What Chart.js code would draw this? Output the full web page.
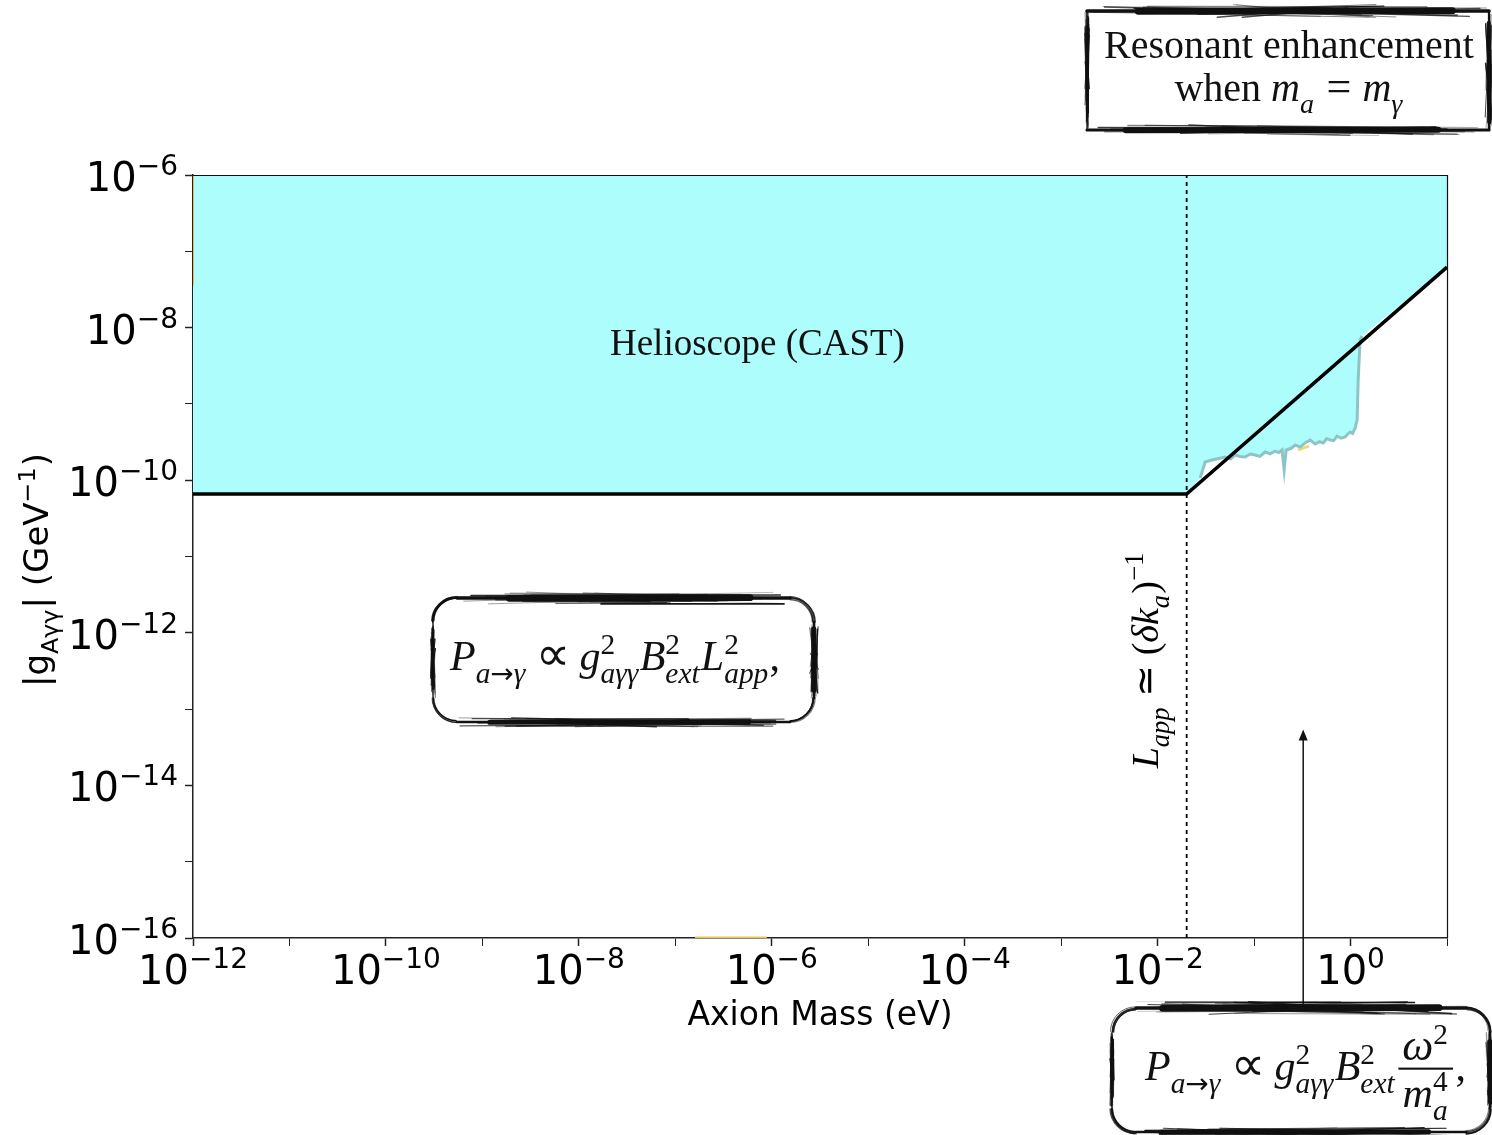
<!DOCTYPE html>
<html>
<head>
<meta charset="utf-8">
<title>Axion–photon coupling: helioscope limit and coherence</title>
<script src="https://cdn.jsdelivr.net/npm/chart.js@4.4.1/dist/chart.umd.min.js"></script>
<style>
  html, body { margin: 0; padding: 0; background: #fff; }
  #wrap { width: 1492px; height: 1135px; }
</style>
</head>
<body>
<div id="wrap"><canvas id="chart" width="1492" height="1135"></canvas></div>
<script>
// ---- axis ranges, tick decades and labelled decades ----
const massRange = [1e-12, 1e1];          // eV
const couplingRange = [1e-16, 1e-6];     // GeV^-1
const massTickExponents = [-12, -11, -10, -9, -8, -7, -6, -5, -4, -3, -2, -1, 0, 1];
const couplingTickExponents = [-16, -15, -14, -13, -12, -11, -10, -9, -8, -7, -6];
const massLabelExponents = [-12, -10, -8, -6, -4, -2, 0];
const couplingLabelExponents = [-16, -14, -12, -10, -8, -6];

// ---- CAST vacuum limit and loss of coherence above m_a ~ 0.02 eV ----
const limitMass = [1e-12, 0.02, 10];
const limitCoupling = [6.6e-11, 6.6e-11, 6.2e-8];
const coherenceMass = 0.02;

// ---- CAST buffer-gas phase (resonant enhancement) ----
const gasMass = [0.0276, 0.0311, 0.0367, 0.0430, 0.0501, 0.0570, 0.0635, 0.0720, 0.0807, 0.0910,
                 0.1026, 0.115, 0.130, 0.147, 0.165, 0.180, 0.195, 0.205, 0.215, 0.240,
                 0.267, 0.301, 0.340, 0.381, 0.430, 0.475, 0.520, 0.565, 0.615, 0.668,
                 0.726, 0.800, 0.879, 0.930, 0.991, 1.05, 1.116, 1.17, 1.20, 1.256, 1.318];
const gasCoupling = [1.07e-10, 1.73e-10, 1.84e-10, 1.92e-10, 2.01e-10, 1.90e-10, 2.14e-10, 2.05e-10, 2.01e-10, 2.20e-10,
                     2.14e-10, 2.05e-10, 2.34e-10, 2.22e-10, 2.41e-10, 2.30e-10, 2.49e-10, 1.36e-10, 2.49e-10, 2.60e-10,
                     2.89e-10, 2.72e-10, 3.10e-10, 3.37e-10, 2.98e-10, 3.20e-10, 3.07e-10, 3.50e-10, 3.37e-10, 3.30e-10,
                     3.79e-10, 3.55e-10, 3.68e-10, 4.00e-10, 4.28e-10, 4.10e-10, 4.83e-10, 6.15e-10, 2.06e-9, 6.88e-9, 7.76e-9];

// ---- small haloscope slivers ----
const haloMass = [1.6e-7, 8.9e-7];
const haloCoupling = [1e-16, 1e-16];
const gasHaloMass = [0.285, 0.37];
const gasHaloCoupling = [2.5e-10, 2.8e-10];
const edgeMass = [1e-12, 1e-12];
const edgeCoupling = [1e-6, 3.6e-8];

// ---- labels ----
const regionLabel = { text: 'Helioscope (CAST)', mass: 7.1e-7, coupling: 6.5e-9 };
const arrowMass = 0.323;
const arrowTipCoupling = 5.4e-14;

const SERIF = '"Liberation Serif", "DejaVu Serif", serif';
const SANS = '"DejaVu Sans", sans-serif';
const CYAN = '#aefdfd';

const pts = (xs, ys) => xs.map((x, i) => ({ x, y: ys[i] }));
const fillEdge = pts([limitMass[0], limitMass[1]].concat(gasMass, [limitMass[2]]),
                     [limitCoupling[0], limitCoupling[1]].concat(gasCoupling, [limitCoupling[2]]));

// ---- tiny math-text renderer (italic runs, spacing, sub/superscripts, fractions) ----
const T = (t, i, k, f) => ({ t, i: !!i, k: k || 1, f });
const G = em => ({ gap: em });
function fontFor(it, S, fam) { return (it.i ? 'italic ' : '') + (S * it.k) + 'px ' + (it.f || fam); }
function measure(ctx, items, S, fam) {
  let w = 0;
  for (const it of items) w += widthOf(ctx, it, S, fam);
  return w;
}
function widthOf(ctx, it, S, fam) {
  if (it.gap !== undefined) return it.gap * S;
  if (it.t !== undefined) {
    ctx.font = fontFor(it, S, fam);
    return ctx.measureText(it.t).width;
  }
  if (it.frac) {
    return Math.max(measure(ctx, it.frac[0], S, fam), measure(ctx, it.frac[1], S, fam)) + S * 0.3;
  }
  const a = it.sup ? measure(ctx, it.sup, S * 0.7, fam) : 0;
  const b = it.sub ? measure(ctx, it.sub, S * 0.7, fam) : 0;
  return Math.max(a, b) + S * 0.03;
}
function render(ctx, items, x, y, S, fam) {
  for (const it of items) {
    if (it.gap !== undefined) {
      x += it.gap * S;
    } else if (it.t !== undefined) {
      ctx.font = fontFor(it, S, fam);
      ctx.fillText(it.t, x, y);
      x += ctx.measureText(it.t).width;
    } else if (it.frac) {
      const wn = measure(ctx, it.frac[0], S, fam), wd = measure(ctx, it.frac[1], S, fam);
      const W = Math.max(wn, wd) + S * 0.3;
      const axis = y - S * 0.27;
      ctx.fillRect(x + S * 0.06, axis - S * 0.025, W - S * 0.12, S * 0.05);
      render(ctx, it.frac[0], x + (W - wn) / 2, axis - S * 0.2, S, fam);
      render(ctx, it.frac[1], x + (W - wd) / 2, axis + S * 0.92, S, fam);
      x += W;
    } else {
      if (it.sup) render(ctx, it.sup, x, y - S * 0.38, S * 0.7, fam);
      if (it.sub) render(ctx, it.sub, x, y + S * 0.3, S * 0.7, fam);
      x += widthOf(ctx, it, S, fam);
    }
  }
  return x;
}

// ---- hand-drawn box outlines ----
function rnd(n) { const s = Math.sin(n * 12.9898 + 78.233) * 43758.5453; return s - Math.floor(s); }
function roughSeg(ctx, x1, y1, x2, y2, w, seed) {
  const len = Math.hypot(x2 - x1, y2 - y1);
  const ux = (x2 - x1) / len, uy = (y2 - y1) / len, nx = -uy, ny = ux;
  const P = (f, o) => [x1 + ux * len * f + nx * o, y1 + uy * len * f + ny * o];
  ctx.save();
  ctx.strokeStyle = '#111';
  ctx.lineCap = 'round';
  // brush body: thin over the full length, heavy in the middle
  ctx.lineWidth = w * 0.45;
  ctx.beginPath(); ctx.moveTo(...P(0, 0)); ctx.lineTo(...P(1, 0)); ctx.stroke();
  ctx.lineWidth = w * 0.85;
  ctx.beginPath(); ctx.moveTo(...P(0.08 + rnd(seed) * 0.08, 0.3)); ctx.lineTo(...P(0.86 + rnd(seed + 1) * 0.08, -0.3)); ctx.stroke();
  // bristle strokes
  for (let i = 0; i < 26; i++) {
    const a = rnd(seed + i * 1.7) * 0.45, b = 0.55 + rnd(seed + i * 2.3) * 0.45;
    const o1 = (rnd(seed + i * 3.1) - 0.5) * w * 1.6, o2 = (rnd(seed + i * 4.7) - 0.5) * w * 1.6;
    ctx.lineWidth = 0.4 + rnd(seed + i * 5.9) * 1.2;
    ctx.globalAlpha = 0.35 + 0.65 * rnd(seed + i * 6.1);
    ctx.beginPath(); ctx.moveTo(...P(a, o1)); ctx.lineTo(...P(b, o2)); ctx.stroke();
  }
  ctx.restore();
}
function roughCorner(ctx, cx, cy, r, a0, a1, seed) {
  ctx.save();
  ctx.strokeStyle = '#111';
  for (let i = 0; i < 6; i++) {
    ctx.lineWidth = 0.6 + rnd(seed + i) * 1.5;
    ctx.globalAlpha = 0.5 + 0.5 * rnd(seed + i * 7);
    ctx.beginPath();
    ctx.arc(cx + (rnd(seed + i * 2) - 0.5) * 2, cy + (rnd(seed + i * 3) - 0.5) * 2,
            r + (rnd(seed + i * 5) - 0.5) * 3, a0, a1);
    ctx.stroke();
  }
  ctx.restore();
}
function roughBox(ctx, l, t, r, b, rad, w, seed) {
  ctx.save();
  ctx.fillStyle = '#fff';
  ctx.beginPath(); ctx.roundRect(l, t, r - l, b - t, rad); ctx.fill();
  ctx.restore();
  const k = rad > 0 ? rad : 0;
  roughSeg(ctx, l + k, t, r - k, t, w[0], seed);
  roughSeg(ctx, r, t + k, r, b - k, w[1], seed + 50);
  roughSeg(ctx, r - k, b, l + k, b, w[2], seed + 100);
  roughSeg(ctx, l, b - k, l, t + k, w[3], seed + 150);
  if (rad > 0) {
    roughCorner(ctx, l + rad, t + rad, rad, Math.PI, 1.5 * Math.PI, seed + 200);
    roughCorner(ctx, r - rad, t + rad, rad, 1.5 * Math.PI, 2 * Math.PI, seed + 210);
    roughCorner(ctx, r - rad, b - rad, rad, 0, 0.5 * Math.PI, seed + 220);
    roughCorner(ctx, l + rad, b - rad, rad, 0.5 * Math.PI, Math.PI, seed + 230);
  }
}

// ---- formulas ----
const ARROW_SUB = [T('a', 1), T('\u2192', 0, 0.95, SANS), T('\u03B3', 1)];
const PROP = [G(0.22), T('\u221D', 0, 1.15, SANS), G(0.22)];
const formulaCoherent = [T('P', 1), { sub: ARROW_SUB }, ...PROP, T('g', 1),
  { sup: [T('2')], sub: [T('a\u03B3\u03B3', 1)] }, T('B', 1), { sup: [T('2')], sub: [T('ext', 1)] },
  T('L', 1), { sup: [T('2')], sub: [T('app', 1)] }, T(',')];
const formulaIncoherent = [T('P', 1), { sub: ARROW_SUB }, ...PROP, T('g', 1),
  { sup: [T('2')], sub: [T('a\u03B3\u03B3', 1)] }, T('B', 1), { sup: [T('2')], sub: [T('ext', 1)] },
  { frac: [[T('\u03C9', 1, 1.05), { sup: [T('2')] }], [T('m', 1), { sup: [T('4')], sub: [T('a', 1)] }]] }, T(',')];
const resonanceLine = [T('when '), T('m', 1), { sub: [T('a', 1)] }, G(0.28), T('=', 0, 1.1), G(0.28),
  T('m', 1), { sub: [T('\u03B3', 1)] }];
const lengthLabel = [T('L', 1), { sub: [T('app', 1)] }, G(0.25), T('\u2243', 0, 1, SANS), G(0.25), T('('),
  T('\u03B4', 1), T('k', 1), { sub: [T('a', 1)] }, T(')'), { sup: [T('\u22121')] }];
const yTitle = [T('|g'), { sub: [T('A\u03B3\u03B3')] }, T('| (GeV'), { sup: [T('\u22121')] }, T(')')];

// decade labels drawn as 10 with a raised exponent
function drawPow(ctx, e, x, y, align) {
  ctx.font = '40px ' + SANS;
  const w10 = ctx.measureText('10').width;
  const ex = String(e).replace('-', '\u2212');
  ctx.font = '28px ' + SANS;
  const we = ctx.measureText(ex).width;
  const total = w10 + we;
  const x0 = align === 'right' ? x - total : x - total / 2;
  ctx.font = '40px ' + SANS;
  ctx.fillText('10', x0, y);
  ctx.font = '28px ' + SANS;
  ctx.fillText(ex, x0 + w10, y - 16);
}

const annotations = {
  id: 'annotations',
  afterDatasetsDraw(chart) {
    const { ctx, chartArea: a, scales: { x, y } } = chart;
    ctx.save();
    // plot frame (top and right)
    ctx.strokeStyle = '#111';
    ctx.lineWidth = 1.2;
    ctx.beginPath();
    ctx.moveTo(a.left, a.top + 0.5); ctx.lineTo(a.right + 0.5, a.top + 0.5); ctx.lineTo(a.right + 0.5, a.bottom);
    ctx.stroke();
    // region label
    ctx.fillStyle = '#111';
    ctx.font = '37px ' + SERIF;
    ctx.textAlign = 'center';
    ctx.textBaseline = 'alphabetic';
    ctx.fillText(regionLabel.text, x.getPixelForValue(regionLabel.mass), y.getPixelForValue(regionLabel.coupling) + 13);
    ctx.restore();
  },
  afterDraw(chart) {
    const { ctx, scales: { x, y } } = chart;
    ctx.save();
    ctx.fillStyle = '#000';
    ctx.textAlign = 'left';
    ctx.textBaseline = 'alphabetic';

    // decade tick labels
    for (const e of massLabelExponents) drawPow(ctx, e, x.getPixelForValue(Math.pow(10, e)), x.top + 46, 'center');
    for (const e of couplingLabelExponents) drawPow(ctx, e, y.left + y.width - 15, y.getPixelForValue(Math.pow(10, e)) + 16, 'right');

    // y-axis title
    ctx.save();
    ctx.translate(48, 570);
    ctx.rotate(-Math.PI / 2);
    const wy = measure(ctx, yTitle, 34, SANS);
    render(ctx, yTitle, -wy / 2, 0, 34, SANS);
    ctx.restore();

    // coherence length label beside the dotted line
    ctx.save();
    ctx.translate(x.getPixelForValue(coherenceMass) - 29, 660);
    ctx.rotate(-Math.PI / 2);
    const wl = measure(ctx, lengthLabel, 38, SERIF);
    render(ctx, lengthLabel, -wl / 2, 0, 38, SERIF);
    ctx.restore();

    // arrow from the incoherent-regime box
    const ax = x.getPixelForValue(arrowMass);
    const ay = y.getPixelForValue(arrowTipCoupling);
    ctx.strokeStyle = '#111';
    ctx.fillStyle = '#111';
    ctx.lineWidth = 1.5;
    ctx.beginPath(); ctx.moveTo(ax, 1008); ctx.lineTo(ax, ay + 8); ctx.stroke();
    ctx.beginPath(); ctx.moveTo(ax, ay); ctx.lineTo(ax - 4.5, ay + 11); ctx.lineTo(ax + 4.5, ay + 11); ctx.closePath(); ctx.fill();

    // boxes
    roughBox(ctx, 1087, 11, 1489, 130, 0, [8, 5, 7, 3], 11);
    roughBox(ctx, 433, 598, 814, 722, 24, [8, 6, 6, 3], 37);
    roughBox(ctx, 1112, 1008, 1490, 1132, 24, [8, 6, 6, 3], 73);

    ctx.fillStyle = '#111';
    ctx.font = '40px ' + SERIF;
    ctx.textAlign = 'center';
    ctx.fillText('Resonant enhancement', 1289, 58);
    ctx.textAlign = 'left';
    const wr = measure(ctx, resonanceLine, 40, SERIF);
    render(ctx, resonanceLine, 1289 - wr / 2, 101, 40, SERIF);

    render(ctx, formulaCoherent, 450, 670, 42, SERIF);
    render(ctx, formulaIncoherent, 1145, 1080, 42, SERIF);
    ctx.restore();
  }
};

const line = (data, color, width, order, extra) => Object.assign({
  data, borderColor: color, borderWidth: width, pointRadius: 0, fill: false, tension: 0, order
}, extra || {});

const tickWidth = c => (c.tick && Math.round(Math.log10(c.tick.value)) % 2 === 0 ? 1.5 : 1);

new Chart(document.getElementById('chart'), {
  type: 'line',
  data: {
    datasets: [
      line(pts(limitMass, limitCoupling), '#000', 3.5, 1, { borderJoinStyle: 'miter' }),
      line(pts([coherenceMass, coherenceMass], couplingRange), '#000', 1.8, 2, { borderDash: [4, 4] }),
      line(pts(gasMass, gasCoupling), '#8dc4c6', 3, 3),
      line(pts(gasHaloMass, gasHaloCoupling), '#f0d878', 3, 4),
      line(pts(haloMass, haloCoupling), '#e8c84a', 3, 4),
      line(pts(edgeMass, edgeCoupling), '#f0a830', 1.5, 4),
      line(fillEdge, 'rgba(0,0,0,0)', 0, 6, { fill: 'end', backgroundColor: CYAN })
    ]
  },
  options: {
    responsive: false,
    animation: false,
    devicePixelRatio: 1,
    layout: { padding: { top: 175, right: 45, left: 0, bottom: 0 } },
    plugins: { legend: { display: false }, tooltip: { enabled: false } },
    scales: {
      x: {
        type: 'logarithmic',
        position: 'bottom',
        min: massRange[0], max: massRange[1],
        afterBuildTicks: s => { s.ticks = massTickExponents.map(e => ({ value: Math.pow(10, e) })); },
        afterFit: s => { s.height = 197; },
        border: { display: true, color: '#222', width: 1.5 },
        grid: { drawOnChartArea: false, drawTicks: true, tickLength: 8, tickColor: '#222', tickWidth },
        ticks: { autoSkip: false, maxRotation: 0, minRotation: 0, callback: () => '' },
        title: {
          display: true, text: 'Axion Mass (eV)', color: '#000',
          font: { family: 'DejaVu Sans', size: 33 }, padding: { top: 0, bottom: 99 }
        }
      },
      y: {
        type: 'logarithmic',
        position: 'left',
        min: couplingRange[0], max: couplingRange[1],
        afterBuildTicks: s => { s.ticks = couplingTickExponents.map(e => ({ value: Math.pow(10, e) })); },
        afterFit: s => { s.width = 193; },
        border: { display: true, color: '#222', width: 1.5 },
        grid: { drawOnChartArea: false, drawTicks: true, tickLength: 8, tickColor: '#222', tickWidth },
        ticks: { autoSkip: false, callback: () => '' }
      }
    }
  },
  plugins: [annotations]
});
</script>
</body>
</html>
